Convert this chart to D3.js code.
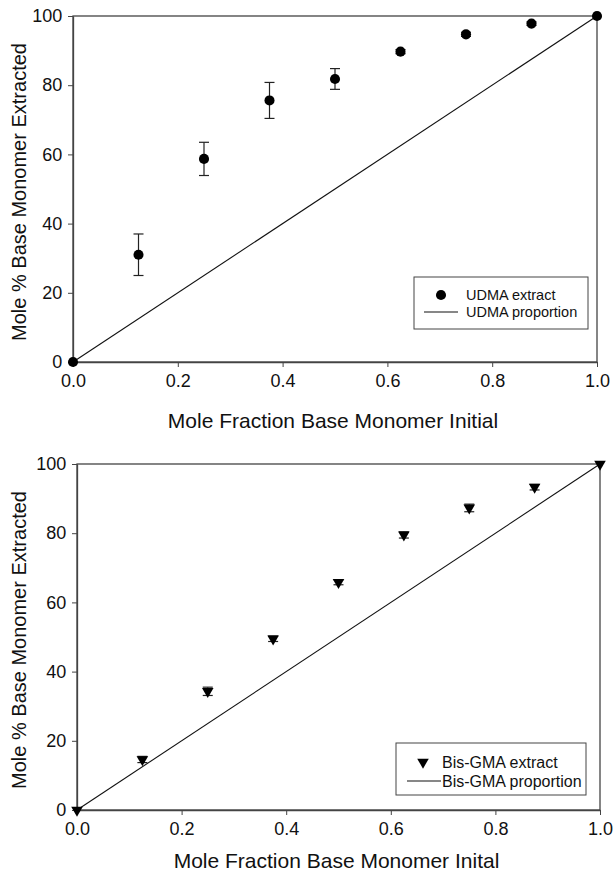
<!DOCTYPE html>
<html>
<head>
<meta charset="utf-8">
<script src="https://cdn.jsdelivr.net/npm/d3@7"></script>
<style>
  body { margin: 0; background: #fff; }
  svg text { font-family: "Liberation Sans", Arial, sans-serif; fill: #111; }
</style>
</head>
<body>
<div id="chart"></div>
<script>
// shared x values (mole fraction)
const fractions = [0, 0.125, 0.25, 0.375, 0.5, 0.625, 0.75, 0.875, 1.0];

// UDMA panel
const udmaMean = [0, 31, 58.7, 75.6, 81.8, 89.7, 94.7, 97.8, 100];
const udmaErr  = [0, 6, 4.8, 5.2, 3, 0.6, 0.6, 0.5, 0];

// Bis-GMA panel
const bisMean = [0, 14.6, 34.3, 49.5, 65.8, 79.5, 87.3, 93.3, 100];
const bisErr  = [0, 0.9, 1.2, 0.8, 0.7, 0.9, 1.1, 0.8, 0];

const proportion = [[0, 0], [1, 100]];
const xTicks = [0, 0.2, 0.4, 0.6, 0.8, 1.0];
const yTicks = [0, 20, 40, 60, 80, 100];

const svg = d3.select("#chart").append("svg")
    .attr("width", 613)
    .attr("height", 876);

function panel({ left, right, top, bottom, mean, err, marker, legendLabels, legendBox, xTitle, xTitleOff }) {
    const x = d3.scaleLinear().domain([0, 1]).range([left, right]);
    const y = d3.scaleLinear().domain([0, 100]).range([bottom, top]);
    const g = svg.append("g");

    // frame
    g.append("rect")
        .attr("x", left).attr("y", top)
        .attr("width", right - left).attr("height", bottom - top)
        .attr("fill", "none").attr("stroke", "#444").attr("stroke-width", 1.3);

    // axes
    const xa = g.append("g").attr("transform", `translate(0,${bottom})`)
        .call(d3.axisBottom(x).tickValues(xTicks).tickFormat(d3.format(".1f")).tickSize(5).tickSizeOuter(0));
    const ya = g.append("g").attr("transform", `translate(${left},0)`)
        .call(d3.axisLeft(y).tickValues(yTicks).tickSize(5).tickSizeOuter(0));
    [xa, ya].forEach(a => {
        a.select(".domain").attr("stroke", "#444").attr("stroke-width", 1.3);
        a.selectAll(".tick line").attr("stroke", "#444");
        a.selectAll("text").style("font-size", "18px").attr("fill", "#111");
    });
    xa.selectAll("text").attr("dy", "0.95em");
    ya.selectAll("text").attr("dx", "-0.15em");

    // proportion line
    g.append("path")
        .datum(proportion)
        .attr("d", d3.line().x(d => x(d[0])).y(d => y(d[1])))
        .attr("stroke", "#111").attr("stroke-width", 1.1).attr("fill", "none");

    // error bars
    const pts = fractions.map((f, i) => ({ f, m: mean[i], e: err[i] }));
    const eb = g.append("g").selectAll("g")
        .data(pts.filter(d => d.e > 0))
        .join("g").attr("stroke", "#222").attr("stroke-width", 1.2);
    eb.append("line")
        .attr("x1", d => x(d.f)).attr("x2", d => x(d.f))
        .attr("y1", d => y(d.m - d.e)).attr("y2", d => y(d.m + d.e));
    eb.append("line")
        .attr("x1", d => x(d.f) - 5).attr("x2", d => x(d.f) + 5)
        .attr("y1", d => y(d.m - d.e)).attr("y2", d => y(d.m - d.e));
    eb.append("line")
        .attr("x1", d => x(d.f) - 5).attr("x2", d => x(d.f) + 5)
        .attr("y1", d => y(d.m + d.e)).attr("y2", d => y(d.m + d.e));

    // markers
    const sym = marker === "circle"
        ? d3.symbol().type(d3.symbolCircle).size(80)
        : d3.symbol().type(d3.symbolTriangle).size(58);
    g.append("g").selectAll("path")
        .data(pts)
        .join("path")
        .attr("d", sym)
        .attr("transform", d => `translate(${x(d.f)},${y(d.m)})` + (marker === "circle" ? "" : " rotate(180)"))
        .attr("fill", "#000");

    // legend
    const lb = legendBox;
    const lg = g.append("g");
    lg.append("rect")
        .attr("x", lb.x).attr("y", lb.y).attr("width", lb.w).attr("height", lb.h)
        .attr("fill", "#fff").attr("stroke", "#444").attr("stroke-width", 1);
    lg.append("path")
        .attr("d", sym)
        .attr("transform", `translate(${lb.mx},${lb.r1})` + (marker === "circle" ? "" : " rotate(180)"))
        .attr("fill", "#000");
    lg.append("line")
        .attr("x1", lb.l1).attr("x2", lb.l2).attr("y1", lb.r2).attr("y2", lb.r2)
        .attr("stroke", "#111").attr("stroke-width", 1.1);
    lg.selectAll("text")
        .data(legendLabels)
        .join("text")
        .attr("x", lb.tx)
        .attr("y", (d, i) => i === 0 ? lb.r1 : lb.r2)
        .attr("dy", "0.36em")
        .style("font-size", lb.fs + "px")
        .text(d => d);

    // titles
    g.append("text")
        .attr("x", (left + right) / 2 - 2).attr("y", bottom + xTitleOff)
        .attr("text-anchor", "middle")
        .style("font-size", "21px")
        .text(xTitle);
    g.append("text")
        .attr("transform", `translate(26,${(top + bottom) / 2 + 3}) rotate(-90)`)
        .attr("text-anchor", "middle")
        .style("font-size", "20px")
        .text("Mole % Base Monomer Extracted");
}

panel({
    left: 73, right: 597, top: 16, bottom: 362,
    mean: udmaMean, err: udmaErr, marker: "circle",
    legendLabels: ["UDMA extract", "UDMA proportion"],
    legendBox: { x: 414, y: 277, w: 174, h: 52, mx: 441, r1: 295, r2: 312, l1: 424, l2: 458, tx: 466, fs: 14.5 },
    xTitle: "Mole Fraction Base Monomer Initial", xTitleOff: 66
});

panel({
    left: 77, right: 600, top: 464, bottom: 810,
    mean: bisMean, err: bisErr, marker: "triangle",
    legendLabels: ["Bis-GMA extract", "Bis-GMA proportion"],
    legendBox: { x: 396, y: 743, w: 190, h: 52, mx: 423, r1: 762, r2: 781, l1: 407, l2: 441, tx: 442, fs: 16 },
    xTitle: "Mole Fraction Base Monomer Inital", xTitleOff: 58
});
</script>
</body>
</html>
